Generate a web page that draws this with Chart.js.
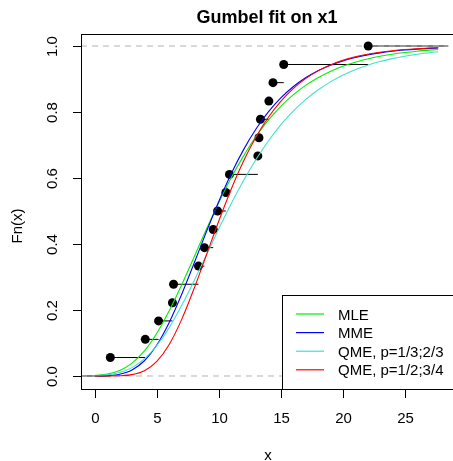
<!DOCTYPE html>
<html>
<head>
<meta charset="utf-8">
<script src="https://cdn.jsdelivr.net/npm/chart.js@4/dist/chart.umd.min.js"></script>
<style>
    html, body { margin: 0; padding: 0; background: #fff; overflow: hidden; }
    canvas { display: block; }
</style>
</head>
<body>
<canvas id="cdfChart" width="453" height="461"></canvas>
<script>
// Empirical data (sorted x1) and ecdf heights
const ecdfX = [1.25, 4.07, 5.14, 6.26, 6.35, 8.36, 8.84, 9.55, 9.9, 10.57, 10.86, 13.15, 13.24, 13.36, 14.04, 14.37, 15.24, 22.05];
const ecdfY = [0.056, 0.111, 0.167, 0.222, 0.278, 0.333, 0.389, 0.444, 0.5, 0.556, 0.611, 0.667, 0.722, 0.778, 0.833, 0.889, 0.944, 1.0];

// Fitted Gumbel CDFs
const curveX = [0, 1, 2, 3, 4, 5, 6, 7, 8, 9, 10, 11, 12, 13, 14, 15, 16, 17, 18, 19, 20, 21, 22, 23, 24, 25, 26, 27, 27.7];
const mleY = [0.0015, 0.0057, 0.0166, 0.0389, 0.0759, 0.1295, 0.1975, 0.276, 0.360, 0.445, 0.526, 0.601, 0.667, 0.7256, 0.7752, 0.8172, 0.852, 0.8806, 0.904, 0.923, 0.9385, 0.9508, 0.9608, 0.9688, 0.9751, 0.9802, 0.9843, 0.9875, 0.9894];
const mmeY = [0.0002, 0.0012, 0.0055, 0.0183, 0.0462, 0.0939, 0.1622, 0.2468, 0.341, 0.437, 0.529, 0.6128, 0.686, 0.7485, 0.8002, 0.8425, 0.8765, 0.9036, 0.925, 0.9418, 0.955, 0.9651, 0.9731, 0.9792, 0.984, 0.9877, 0.9905, 0.9927, 0.9939];
const qme1Y = [0.0009, 0.0035, 0.0105, 0.0254, 0.052, 0.0924, 0.1467, 0.2133, 0.288, 0.367, 0.446, 0.522, 0.5924, 0.656, 0.712, 0.7608, 0.8024, 0.8374, 0.8668, 0.8913, 0.9115, 0.9281, 0.9417, 0.9528, 0.9618, 0.9691, 0.975, 0.9798, 0.9826];
const qme2Y = [0, 0.0001, 0.0007, 0.0041, 0.016, 0.0444, 0.0957, 0.1708, 0.2642, 0.3668, 0.4698, 0.566, 0.6513, 0.724, 0.784, 0.8325, 0.871, 0.9012, 0.9247, 0.9427, 0.9565, 0.967, 0.9751, 0.9812, 0.9858, 0.9893, 0.9919, 0.9939, 0.995];

const legendLabels = ['MLE', 'MME', 'QME, p=1/3;2/3', 'QME, p=1/2;3/4'];
const legendColors = ['#00ee00', '#0000ff', '#40e0d0', '#ff0000'];

const xTicks = [0, 5, 10, 15, 20, 25];
const yTicks = [0, 0.2, 0.4, 0.6, 0.8, 1.0];
const yTickLabels = ['0.0', '0.2', '0.4', '0.6', '0.8', '1.0'];

const X_MIN = -1.116, X_MAX = 28.53;
const Y_MIN = -0.0394, Y_MAX = 1.0364;
const FONT = '"Liberation Sans", Arial, Helvetica, sans-serif';

function toPoints(xs, ys) {
    return xs.map((x, i) => ({ x: x, y: ys[i] }));
}

// horizontal steps of the ecdf, broken with nulls
function stepData() {
    const pts = [{ x: X_MIN, y: 0 }, { x: ecdfX[0], y: 0 }, { x: ecdfX[0], y: null }];
    ecdfX.forEach((x, i) => {
        const next = i < ecdfX.length - 1 ? ecdfX[i + 1] : X_MAX;
        pts.push({ x: x, y: ecdfY[i] }, { x: next, y: ecdfY[i] }, { x: next, y: null });
    });
    return pts;
}

function curve(label, ys, color, order) {
    return {
        label: label,
        data: toPoints(curveX, ys),
        borderColor: color,
        borderWidth: 1.1,
        pointRadius: 0,
        cubicInterpolationMode: 'monotone',
        fill: false,
        order: order
    };
}

const axesPlugin = {
    id: 'rAxes',
    afterDatasetsDraw(chart) {
        const ctx = chart.ctx;
        const a = chart.chartArea;
        const xs = chart.scales.x;
        const ys = chart.scales.y;

        ctx.save();
        // legend box
        ctx.fillStyle = '#fff';
        ctx.fillRect(283, 295, 200, 94);
        ctx.strokeStyle = '#000';
        ctx.lineWidth = 1;
        ctx.strokeRect(282.5, 295.5, 200, 94);
        ctx.font = '15px ' + FONT;
        ctx.textAlign = 'left';
        ctx.textBaseline = 'alphabetic';
        legendLabels.forEach((lab, i) => {
            const y = 314 + i * 18.6;
            ctx.strokeStyle = legendColors[i];
            ctx.lineWidth = 1.2;
            ctx.beginPath();
            ctx.moveTo(296, y);
            ctx.lineTo(324, y);
            ctx.stroke();
            ctx.fillStyle = '#000';
            ctx.fillText(lab, 338, y + 5.5);
        });

        // plot box
        ctx.strokeStyle = '#000';
        ctx.lineWidth = 1;
        ctx.strokeRect(a.left + 0.5, a.top + 0.5, a.right - a.left + 10, a.bottom - a.top);

        // x axis
        ctx.fillStyle = '#000';
        ctx.font = '15px ' + FONT;
        ctx.textAlign = 'center';
        xTicks.forEach(v => {
            const px = Math.round(xs.getPixelForValue(v)) + 0.5;
            ctx.beginPath();
            ctx.moveTo(px, a.bottom);
            ctx.lineTo(px, a.bottom + 9);
            ctx.stroke();
            ctx.fillText(String(v), px, 423);
        });

        // y axis
        yTicks.forEach((v, i) => {
            const py = Math.round(ys.getPixelForValue(v)) + 0.5;
            ctx.beginPath();
            ctx.moveTo(a.left, py);
            ctx.lineTo(a.left - 8, py);
            ctx.stroke();
            ctx.save();
            ctx.translate(57, py);
            ctx.rotate(-Math.PI / 2);
            ctx.fillText(yTickLabels[i], 0, 0);
            ctx.restore();
        });

        // titles
        ctx.fillText('x', 268, 460);
        ctx.save();
        ctx.translate(22, 226);
        ctx.rotate(-Math.PI / 2);
        ctx.fillText('Fn(x)', 0, 0);
        ctx.restore();

        ctx.font = 'bold 18px ' + FONT;
        ctx.fillText('Gumbel fit on x1', 267, 23);
        ctx.restore();
    }
};

const ctx = document.getElementById('cdfChart').getContext('2d');
new Chart(ctx, {
    type: 'line',
    data: {
        datasets: [
            curve(legendLabels[3], qme2Y, legendColors[3], 1),
            curve(legendLabels[2], qme1Y, legendColors[2], 2),
            curve(legendLabels[1], mmeY, legendColors[1], 3),
            curve(legendLabels[0], mleY, legendColors[0], 4),
            {
                label: 'ecdf points',
                data: toPoints(ecdfX, ecdfY),
                showLine: false,
                pointRadius: 4.5,
                pointBackgroundColor: '#000',
                pointBorderWidth: 0,
                order: 5
            },
            {
                label: 'ref lines',
                data: [{ x: X_MIN, y: 0 }, { x: X_MAX, y: 0 }, { x: X_MAX, y: null }, { x: X_MIN, y: 1 }, { x: X_MAX, y: 1 }],
                borderColor: '#b3b3b3',
                borderWidth: 1,
                borderDash: [6, 5],
                pointRadius: 0,
                spanGaps: false,
                order: 6
            },
            {
                label: 'ecdf steps',
                data: stepData(),
                borderColor: '#000',
                borderWidth: 1,
                pointRadius: 0,
                spanGaps: false,
                order: 7
            }
        ]
    },
    options: {
        responsive: false,
        animation: false,
        events: [],
        layout: { padding: { left: 81, top: 34, right: 0, bottom: 72 } },
        scales: {
            x: { type: 'linear', display: false, min: X_MIN, max: X_MAX },
            y: { type: 'linear', display: false, min: Y_MIN, max: Y_MAX }
        },
        plugins: {
            legend: { display: false },
            tooltip: { enabled: false },
            title: { display: false }
        }
    },
    plugins: [axesPlugin]
});
</script>
</body>
</html>
